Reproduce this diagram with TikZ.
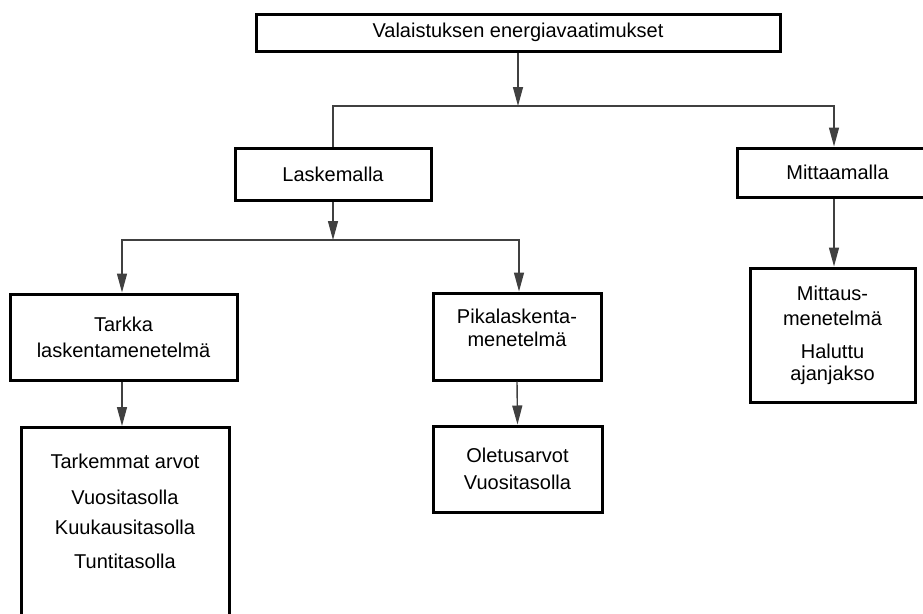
\documentclass[tikz,border=0pt]{standalone}
\usepackage{fontspec}
\setmainfont{Liberation Sans}
\usetikzlibrary{arrows.meta}

\begin{document}
\begin{tikzpicture}[x=1pt,y=1pt]
		\tikzstyle{every node}+=[inner sep=0pt, font=\fontsize{20}{26}\selectfont]
		\tikzstyle{box}=[draw=black, line width=3pt, align=center]
		\tikzstyle{link}=[draw=black!75, line width=1.4pt]
		\tikzstyle{arr}=[link, -{Triangle[length=19pt,width=10pt]}]
		\useasboundingbox (0,0) rectangle (923,-613);
		% boxes
		\node [box, minimum width=524, minimum height=37] (vaat) at (518,-32.5) {Valaistuksen energiavaatimukset};
		\node [box, minimum width=196, minimum height=52] (lask) at (333,-174) {Laskemalla};
		\node [box, minimum width=201, minimum height=49] (mitt) at (837.5,-172.5) {Mittaamalla};
		\node [box, minimum width=227, minimum height=86] (tark) at (123.5,-337) {Tarkka\\laskentamenetelmä};
		\node [box, minimum width=168, minimum height=87] (pika) at (517,-336.5) {Pikalaskenta-\\[-3pt]menetelmä\\[-8pt]~};
		\node [box, minimum width=165, minimum height=134] (mmet) at (832.5,-335) {Mittaus-\\[-1pt]menetelmä\\[7pt]Haluttu\\[-4pt]ajanjakso};
		\node [box, minimum width=208, minimum height=210, anchor=north] (arvot) at (125,-426) {};
		\node [align=center] (arvotxt) at (125,-511) {Tarkemmat arvot\\[10pt]Vuositasolla\\[4pt]Kuukausitasolla\\[8pt]Tuntitasolla};
		\node [box, minimum width=169, minimum height=86] (olet) at (517.5,-469) {Oletusarvot\\[1pt]Vuositasolla};
		% connectors
		\coordinate (j1) at (518,-106);
		\coordinate (j2) at (333,-240);
		\draw [arr] (vaat.south) -- (j1);
		\draw [link] (j1) -| (lask.north);
		\draw [arr] (j1) -| ([xshift=-3.5pt]mitt.north);
		\draw [arr] (lask.south) -- (j2);
		\draw [arr] (j2) -| ([xshift=-1.5pt]tark.north);
		\draw [arr] (j2) -| ([xshift=2pt]pika.north);
		\draw [arr] ([xshift=-3.5pt]mitt.south) -- ([xshift=1.5pt]mmet.north);
		\draw [arr] ([xshift=-1.5pt]tark.south) -- ([xshift=-3pt]arvot.north);
		\draw [arr] (pika.south) -- (olet.north);
	\end{tikzpicture}
\end{document}
